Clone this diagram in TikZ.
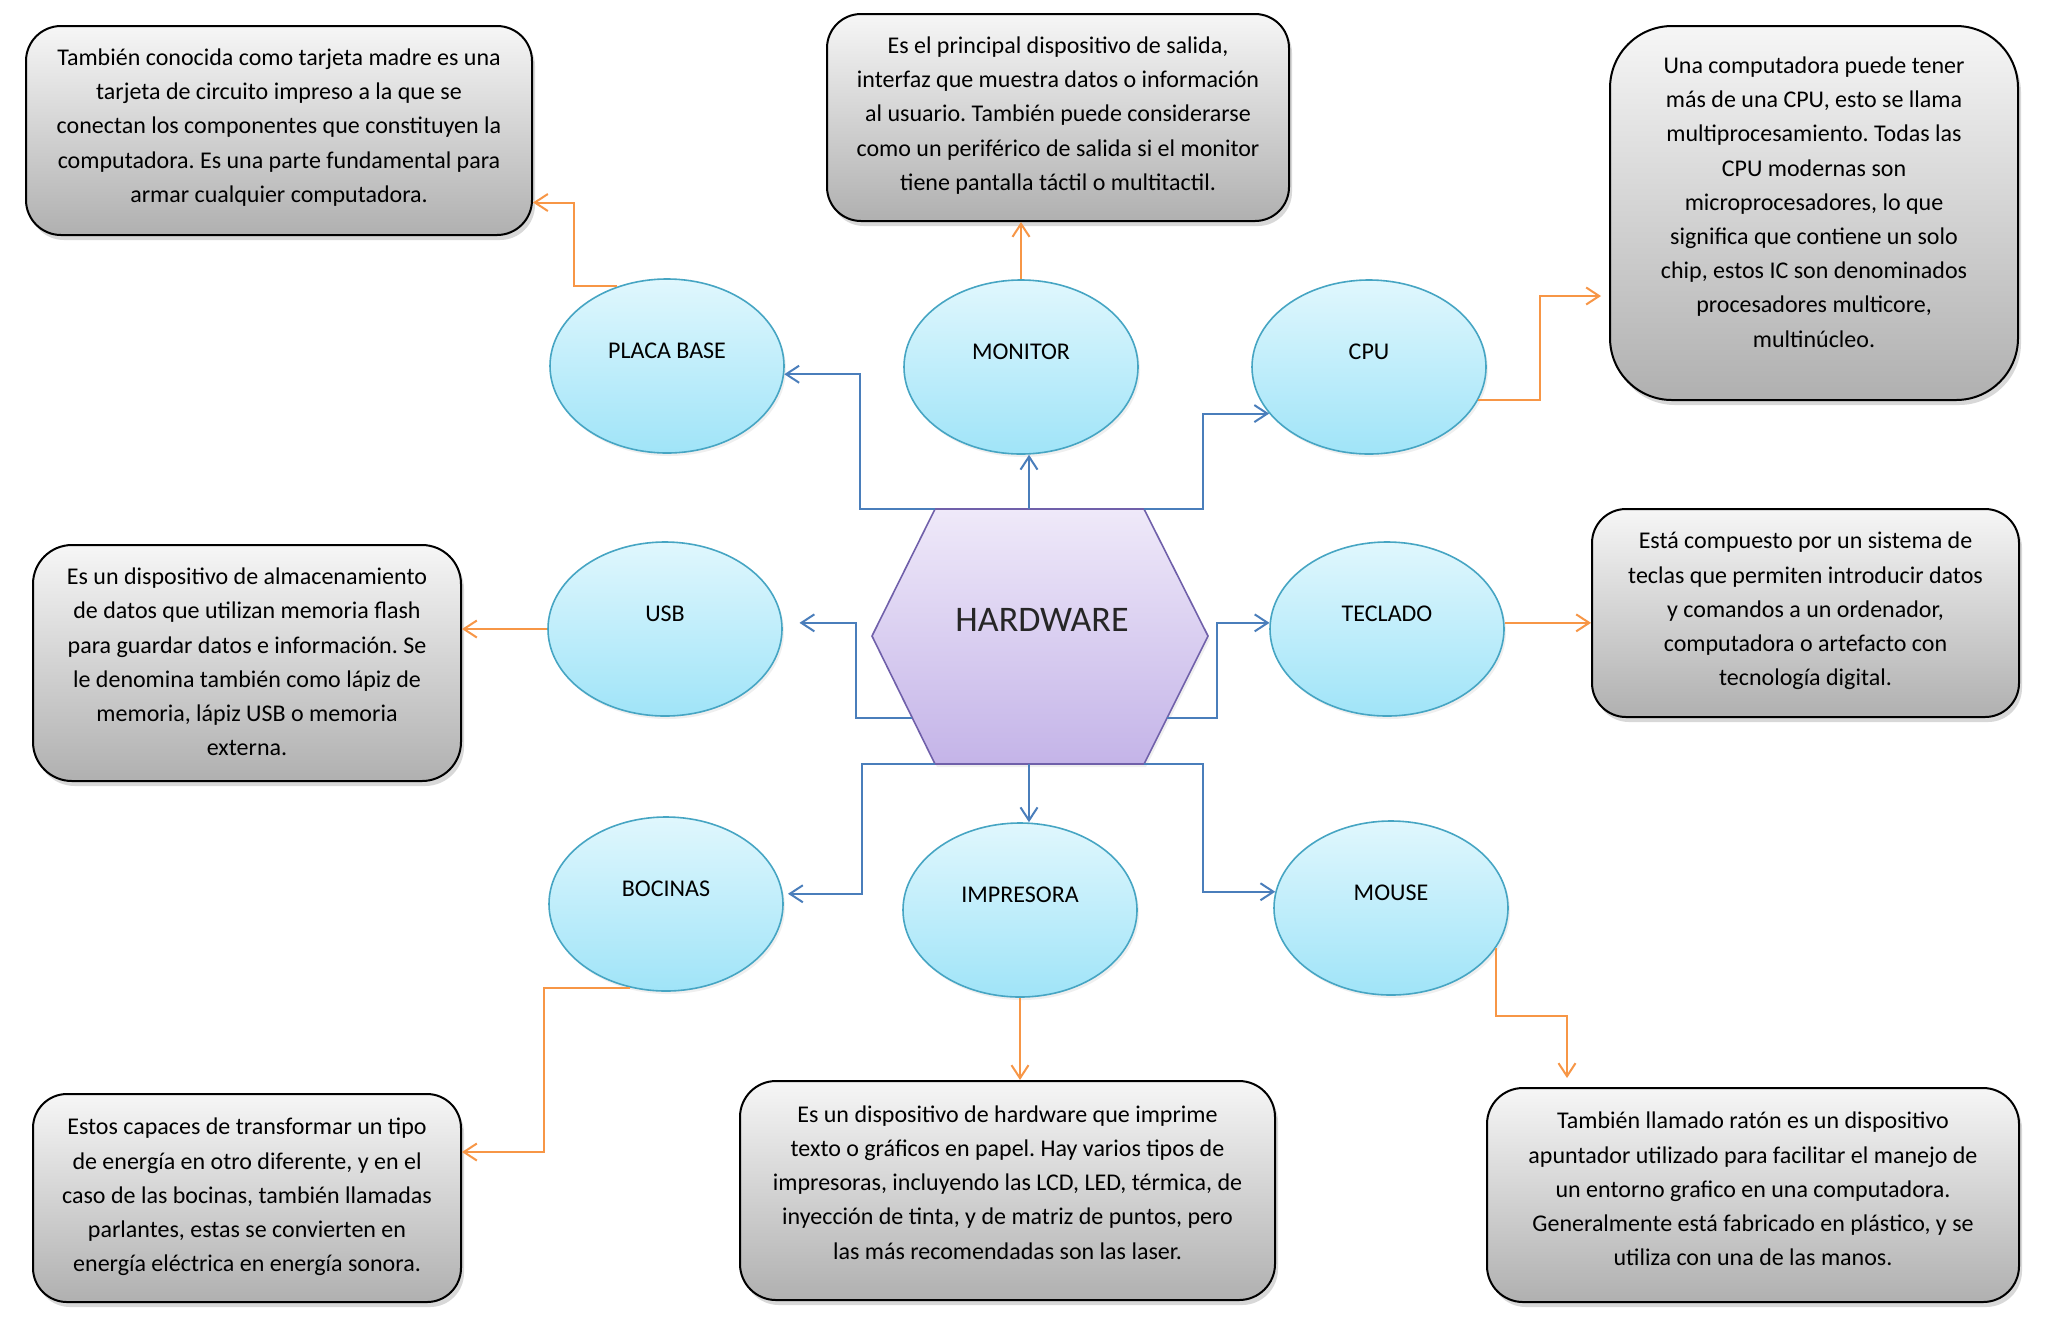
\documentclass[tikz,border=0pt]{standalone}
\usepackage{fontspec}
\setmainfont{Carlito}
\frenchspacing
\usetikzlibrary{arrows.meta,shapes.geometric,shadows,calc}
\definecolor{conblue}{RGB}{74,126,187}
\definecolor{conorange}{RGB}{247,150,70}
\definecolor{ellborder}{RGB}{70,165,195}
\definecolor{elltop}{RGB}{224,247,253}
\definecolor{ellbot}{RGB}{160,228,248}
\definecolor{hextop}{RGB}{239,233,249}
\definecolor{hexbot}{RGB}{196,180,232}
\definecolor{hexborder}{RGB}{112,96,170}
\definecolor{boxtop}{RGB}{246,246,246}
\definecolor{boxbot}{RGB}{176,176,176}
\begin{document}
\begin{tikzpicture}[x=0.5pt,y=-0.5pt,
  infobox/.style={draw=black, line width=1pt, top color=boxtop, bottom color=boxbot,
    inner sep=0pt,
    drop shadow={shadow xshift=1.5pt, shadow yshift=-2.5pt, opacity=0.3}},
  boxtext/.style={align=center, font=\fontsize{12}{17.1}\selectfont, inner sep=0pt},
  hwell/.style={ellipse, draw=ellborder, line width=0.8pt, top color=elltop, bottom color=ellbot,
    minimum width=117pt, minimum height=87pt, inner sep=0pt,
    font=\fontsize{12}{14}\selectfont, text depth=15pt,
    drop shadow={shadow xshift=1pt, shadow yshift=-1.5pt, opacity=0.12}},
  bluearrow/.style={draw=conblue, line width=1pt, -{Straight Barb[length=6.5pt,width=8.5pt]}},
  orangearrow/.style={draw=conorange, line width=1pt, -{Straight Barb[length=6.5pt,width=8.5pt]}}
]
\fill[white] (0,0) rectangle (2048,1335);
\useasboundingbox (0,0) rectangle (2048,1335);

% hexagon
\coordinate (hL) at (872,636);
\coordinate (hTL) at (935,509);
\coordinate (hTR) at (1144,509);
\coordinate (hR) at (1208,636);
\coordinate (hBR) at (1144,764);
\coordinate (hBL) at (935,764);
\path[draw=hexborder, line width=0.8pt, top color=hextop, bottom color=hexbot,
  drop shadow={shadow xshift=1pt, shadow yshift=-1.5pt, opacity=0.12}]
  (hL) -- (hTL) -- (hTR) -- (hR) -- (hBR) -- (hBL) -- cycle;
\node[font=\fontsize{18}{20}\selectfont, text=black!85] (hw) at (1042,620) {HARDWARE};
\coordinate (hTm) at (1029,509);
\coordinate (hBm) at (1029,764);
\coordinate (hLlo) at ($(hL)!0.64!(hBL)$);
\coordinate (hRlo) at ($(hR)!0.64!(hBR)$);

% ellipses
\node[hwell] (pb) at (667,366) {PLACA BASE};
\node[hwell] (mon) at (1021,367) {MONITOR};
\node[hwell] (cpu) at (1369,367) {CPU};
\node[hwell] (usb) at (665,629) {USB};
\node[hwell] (tec) at (1387,629) {TECLADO};
\node[hwell] (boc) at (666,904) {BOCINAS};
\node[hwell] (imp) at (1020,910) {IMPRESORA};
\node[hwell] (mou) at (1391,908) {MOUSE};

% boxes
\node[infobox, minimum width=253pt, minimum height=104.5pt, rounded corners=17.5pt] (pbox) at (279,130.5) {};
\node[boxtext] (pboxt) at ($(pbox)+(0,-3)$)
 {También conocida como tarjeta madre es una\\ tarjeta de circuito impreso a la que se\\ conectan los componentes que constituyen la\\ computadora. Es una parte fundamental para\\ armar cualquier computadora.};
\node[infobox, minimum width=231pt, minimum height=103.5pt, rounded corners=17pt] (mbox) at (1058,117.5) {};
\node[boxtext] (mboxt) at ($(mbox)+(0,-2)$)
 {Es el principal dispositivo de salida,\\ interfaz que muestra datos o información\\ al usuario. También puede considerarse\\ como un periférico de salida si el monitor\\ tiene pantalla táctil o multitactil.};
\node[infobox, minimum width=204pt, minimum height=187pt, rounded corners=31pt] (cbox) at (1814,213) {};
\node[boxtext] (cboxt) at ($(cbox)+(0,-11)$)
 {Una computadora puede tener\\ más de una CPU, esto se llama\\ multiprocesamiento. Todas las\\ CPU modernas son\\ microprocesadores, lo que\\ significa que contiene un solo\\ chip, estos IC son denominados\\ procesadores multicore,\\ multinúcleo.};
\node[infobox, minimum width=214pt, minimum height=118pt, rounded corners=19.5pt] (ubox) at (247,663) {};
\node[boxtext] (uboxt) at ($(ubox)+(0,-1)$)
 {Es un dispositivo de almacenamiento\\ de datos que utilizan memoria flash\\ para guardar datos e información. Se\\ le denomina también como lápiz de\\ memoria, lápiz USB o memoria\\ externa.};
\node[infobox, minimum width=213.5pt, minimum height=104pt, rounded corners=17pt] (tbox) at (1805.5,613) {};
\node[boxtext] (tboxt) at ($(tbox)+(0,-2)$)
 {Está compuesto por un sistema de\\ teclas que permiten introducir datos\\ y comandos a un ordenador,\\ computadora o artefacto con\\ tecnología digital.};
\node[infobox, minimum width=214pt, minimum height=104pt, rounded corners=17pt] (bbox) at (247,1198) {};
\node[boxtext] (bboxt) at ($(bbox)+(0,-1)$)
 {Estos capaces de transformar un tipo\\ de energía en otro diferente, y en el\\ caso de las bocinas, también llamadas\\ parlantes, estas se convierten en\\ energía eléctrica en energía sonora.};
\node[infobox, minimum width=267.5pt, minimum height=109.5pt, rounded corners=18pt] (ibox) at (1007.5,1190.5) {};
\node[boxtext] (iboxt) at ($(ibox)+(0,-8)$)
 {Es un dispositivo de hardware que imprime\\ texto o gráficos en papel. Hay varios tipos de\\ impresoras, incluyendo las LCD, LED, térmica, de\\ inyección de tinta, y de matriz de puntos, pero\\ las más recomendadas son las laser.};
\node[infobox, minimum width=266pt, minimum height=107pt, rounded corners=18pt] (mobox) at (1753,1195) {};
\node[boxtext] (moboxt) at ($(mobox)+(0,-6)$)
 {También llamado ratón es un dispositivo\\ apuntador utilizado para facilitar el manejo de\\ un entorno grafico en una computadora.\\ Generalmente está fabricado en plástico, y se\\ utiliza con una de las manos.};

% blue connectors
\draw[bluearrow] (hTL) -- ++(-75,0) |- (pb.-4);
\draw[bluearrow] (hTm) -- (hTm |- mon.south);
\draw[bluearrow] (hTR) -- ++(59,0) |- (cpu.205);
\draw[bluearrow, shorten >=8.5pt] (hLlo) -- ++(-56,0) |- (usb.3);
\draw[bluearrow] (hRlo) -- ++(50,0) |- (tec.177);
\draw[bluearrow, shorten >=2.5pt] (hBL) -- ++(-73,0) |- (boc.5);
\draw[bluearrow] (hBm) -- (hBm |- imp.north);
\draw[bluearrow] (hBR) -- ++(59,0) |- (mou.172);

% orange connectors
\draw[orangearrow] (pb.122) -- ++(-43,0) |- ($(pbox.east)+(0,72)$);
\draw[orangearrow] (mon.north) -- (mon.north |- mbox.south);
\draw[orangearrow] (cpu.-17) -- ++(62,0) |- ($(cbox.west)+(-8,83)$);
\draw[orangearrow] (usb.west) -- (usb.west -| ubox.east);
\draw[orangearrow] (tec.3) -- (tec.3 -| tbox.west);
\draw[orangearrow] (boc.-113) -- ++(-86,0) |- ($(bbox.east)+(0,-46)$);
\draw[orangearrow] (imp.south) -- (imp.south |- ibox.north);
\draw[orangearrow] (mou.-21) -- ++(0,68) -| ($(mobox.north)+(-186,-9)$);
\end{tikzpicture}
\end{document}
